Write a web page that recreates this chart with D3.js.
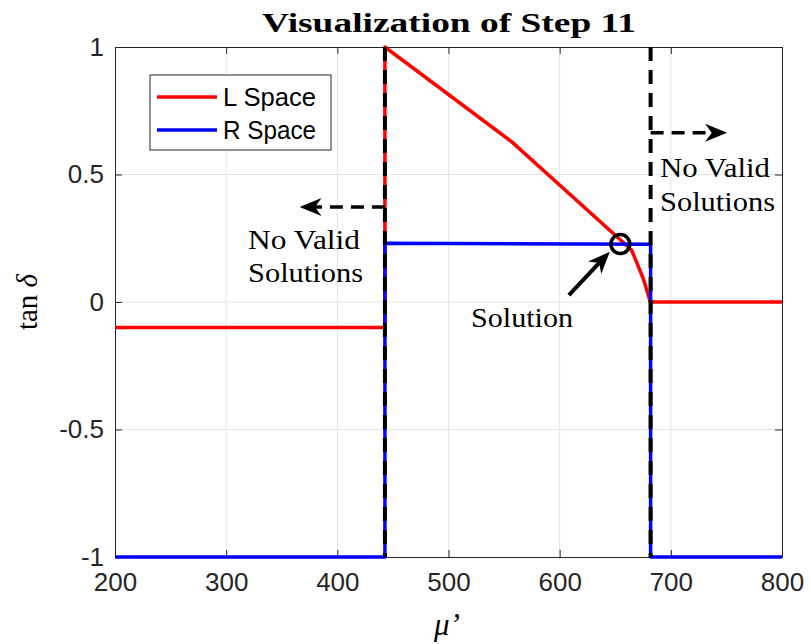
<!DOCTYPE html>
<html>
<head>
<meta charset="utf-8">
<script src="https://cdn.jsdelivr.net/npm/d3@7"></script>
<style>
  html, body { margin: 0; padding: 0; background: #fff; }
  svg { display: block; }
</style>
</head>
<body>
<svg id="chart" width="811" height="644"></svg>
<script>
// L space curve (tan delta vs mu')
const muL  = [200, 442.8, 442.8, 556.7, 664.7, 675.1, 680.5, 681.5, 800];
const tanL = [-0.1, -0.1, 1.0, 0.629, 0.204, 0.093, 0.016, 0, 0];
// R space curve
const muR  = [200, 442.8, 442.8, 681.8, 681.8, 800];
const tanR = [-1, -1, 0.23, 0.226, -1, -1];
// Validity boundaries (dashed verticals)
const boundaries = [442.8, 681.8];
// Ticks
const xTicks = [200, 300, 400, 500, 600, 700, 800];
const yTicks = [-1, -0.5, 0, 0.5, 1];
const yTickLabels = ["-1", "-0.5", "0", "0.5", "1"];
// Legend entries
const seriesNames = ["L Space", "R Space"];
const seriesColors = ["#ff0000", "#0000ff"];
// Annotations: dashed arrows and solution marker
const leftArrow  = { from: [442.8, 0.373], to: [366, 0.373] };
const rightArrow = { from: [681.8, 0.664], to: [750.6, 0.664] };
const solutionArrow = { from: [608.3, 0.027], to: [645.1, 0.197] };
const solutionPoint = [654.6, 0.227];

const svg = d3.select("#chart");
const plotL = 115, plotR = 782, plotT = 47, plotB = 557;

const x = d3.scaleLinear().domain([200, 800]).range([plotL, plotR]);
const y = d3.scaleLinear().domain([-1, 1]).range([plotB, plotT]);

const axisColor = "#262626";
const sans = "'Liberation Sans', Arial, sans-serif";
const serif = "'Liberation Serif', 'Times New Roman', serif";

// background
svg.append("rect").attr("x", plotL).attr("y", plotT)
  .attr("width", plotR - plotL).attr("height", plotB - plotT).attr("fill", "#fff");

// grid
const grid = svg.append("g").attr("stroke", "#e3e3e3").attr("stroke-width", 1);
xTicks.slice(1, -1).forEach(t => grid.append("line")
  .attr("x1", x(t)).attr("x2", x(t)).attr("y1", plotT).attr("y2", plotB));
yTicks.slice(1, -1).forEach(t => grid.append("line")
  .attr("x1", plotL).attr("x2", plotR).attr("y1", y(t)).attr("y2", y(t)));

// axes via d3 axis generators (inward ticks)
const tickLen = 7;
const xAxisB = d3.axisBottom(x).tickValues(xTicks).tickSizeInner(-tickLen).tickSizeOuter(0).tickPadding(16);
const xAxisT = d3.axisTop(x).tickValues(xTicks).tickSizeInner(-tickLen).tickSizeOuter(0).tickFormat("");
const yAxisL = d3.axisLeft(y).tickValues(yTicks).tickSizeInner(-tickLen).tickSizeOuter(0).tickPadding(11)
  .tickFormat((d, i) => yTickLabels[i]);
const yAxisR = d3.axisRight(y).tickValues(yTicks).tickSizeInner(-tickLen).tickSizeOuter(0).tickFormat("");

function styleAxis(g) {
  g.select(".domain").attr("stroke", axisColor).attr("stroke-width", 1);
  g.selectAll(".tick line").attr("stroke", axisColor).attr("stroke-width", 1);
  g.selectAll(".tick text").attr("fill", axisColor).style("font-family", sans).style("font-size", "26px");
}
svg.append("g").attr("transform", `translate(0,${plotB})`).call(xAxisB).call(styleAxis);
svg.append("g").attr("transform", `translate(0,${plotT})`).call(xAxisT).call(styleAxis);
svg.append("g").attr("transform", `translate(${plotL},0)`).call(yAxisL).call(styleAxis);
svg.append("g").attr("transform", `translate(${plotR},0)`).call(yAxisR).call(styleAxis);

// data lines
const line = d3.line().x(d => x(d[0])).y(d => y(d[1]));
const lData = muL.map((m, i) => [m, tanL[i]]);
const rData = muR.map((m, i) => [m, tanR[i]]);
svg.append("path").attr("d", line(lData)).attr("fill", "none")
  .attr("stroke", seriesColors[0]).attr("stroke-width", 3.5).attr("stroke-linejoin", "round");
svg.append("path").attr("d", line(rData)).attr("fill", "none")
  .attr("stroke", seriesColors[1]).attr("stroke-width", 3.5).attr("stroke-linejoin", "round");

// dashed boundaries
boundaries.forEach(b => svg.append("line")
  .attr("x1", x(b)).attr("x2", x(b)).attr("y1", plotT).attr("y2", plotB)
  .attr("stroke", "#000").attr("stroke-width", 4).attr("stroke-dasharray", "14,9"));

// arrowhead helper (notched head)
function arrowHead(x1, y1, x2, y2, len, halfW) {
  const ang = Math.atan2(y2 - y1, x2 - x1);
  const c = Math.cos(ang), s = Math.sin(ang);
  const bx = x2 - len * c, by = y2 - len * s;
  const nx = x2 - len * 0.7 * c, ny = y2 - len * 0.7 * s;
  const p1 = [bx - halfW * s, by + halfW * c];
  const p2 = [bx + halfW * s, by - halfW * c];
  svg.append("path")
    .attr("d", `M${x2},${y2}L${p1[0]},${p1[1]}L${nx},${ny}L${p2[0]},${p2[1]}Z`)
    .attr("fill", "#000");
  return [nx, ny];
}
function dashedArrow(a) {
  const x1 = x(a.from[0]), y1 = y(a.from[1]), x2 = x(a.to[0]), y2 = y(a.to[1]);
  const [nx, ny] = arrowHead(x1, y1, x2, y2, 22, 9);
  svg.append("line").attr("x1", x1).attr("y1", y1).attr("x2", nx).attr("y2", ny)
    .attr("stroke", "#000").attr("stroke-width", 3.5).attr("stroke-dasharray", "13,8");
}
dashedArrow(leftArrow);
dashedArrow(rightArrow);

// solution arrow and marker
{
  const x1 = x(solutionArrow.from[0]), y1 = y(solutionArrow.from[1]);
  const x2 = x(solutionArrow.to[0]), y2 = y(solutionArrow.to[1]);
  const [nx, ny] = arrowHead(x1, y1, x2, y2, 22, 9);
  svg.append("line").attr("x1", x1).attr("y1", y1).attr("x2", nx).attr("y2", ny)
    .attr("stroke", "#000").attr("stroke-width", 4);
}
svg.append("circle").attr("cx", x(solutionPoint[0])).attr("cy", y(solutionPoint[1]))
  .attr("r", 9.5).attr("fill", "none").attr("stroke", "#000").attr("stroke-width", 3.5);

// annotation texts
function serifText(tx, ty, str, width, size) {
  svg.append("text").attr("x", tx).attr("y", ty).text(str)
    .style("font-family", serif).style("font-size", size + "px").attr("fill", "#000")
    .attr("textLength", width).attr("lengthAdjust", "spacingAndGlyphs");
}
serifText(248, 249, "No Valid", 112, 27);
serifText(248, 282, "Solutions", 115, 27);
serifText(660, 177, "No Valid", 110, 27);
serifText(660, 211, "Solutions", 115, 27);
serifText(471, 327, "Solution", 102, 27);

// legend
const lg = svg.append("g");
lg.append("rect").attr("x", 150).attr("y", 75).attr("width", 181).attr("height", 75)
  .attr("fill", "#fff").attr("stroke", axisColor).attr("stroke-width", 1);
seriesNames.forEach((name, i) => {
  const ly = 97 + i * 33;
  lg.append("line").attr("x1", 157).attr("x2", 217).attr("y1", ly).attr("y2", ly)
    .attr("stroke", seriesColors[i]).attr("stroke-width", 3.5);
  lg.append("text").attr("x", 223).attr("y", ly).attr("dy", "0.36em").text(name)
    .style("font-family", sans).style("font-size", "25px").attr("fill", "#000")
    .attr("textLength", 93).attr("lengthAdjust", "spacingAndGlyphs");
});

// title
svg.append("text").attr("x", 449).attr("y", 32).attr("text-anchor", "middle")
  .text("Visualization of Step 11")
  .style("font-family", serif).style("font-size", "28px").style("font-weight", "bold")
  .attr("textLength", 374).attr("lengthAdjust", "spacingAndGlyphs");

// axis labels
const yl = svg.append("text").attr("transform", "translate(37,302) rotate(-90)")
  .attr("text-anchor", "middle").style("font-family", serif).style("font-size", "29px");
yl.append("tspan").text("tan ");
yl.append("tspan").style("font-style", "italic").text("δ");

svg.append("text").attr("x", 447).attr("y", 635).attr("text-anchor", "middle")
  .style("font-family", serif).style("font-size", "31px").style("font-style", "italic")
  .text("μ’");
</script>
</body>
</html>
